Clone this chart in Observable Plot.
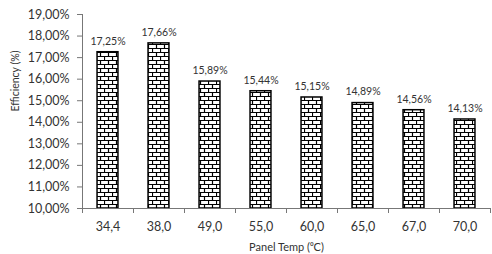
<!DOCTYPE html>
<html><head><meta charset="utf-8">
<script src="https://cdn.jsdelivr.net/npm/d3@7"></script>
<script src="https://cdn.jsdelivr.net/npm/@observablehq/plot@0.6"></script>
<style>body{margin:0;background:#fff}</style>
</head><body><div id="chart"></div>
<script>
const temps = ["34,4","38,0","49,0","55,0","60,0","65,0","67,0","70,0"];
const efficiency = [17.25,17.66,15.89,15.44,15.15,14.89,14.56,14.13];
const yTicks = [10,11,12,13,14,15,16,17,18,19];

const data = temps.map((t,i)=>({temp:t, eff:efficiency[i]}));
const fmt = d => d.toFixed(2).replace(".", ",") + "%";
const font = "Lato, 'Open Sans', sans-serif";

const chart = Plot.plot({
  width: 492, height: 254,
  marginLeft: 82, marginRight: 2, marginTop: 14, marginBottom: 46,
  style: {fontFamily: font, color: "#333", background: "#fff"},
  x: {domain: temps, paddingInner: 0.59, paddingOuter: 0.295, round: false, label: null},
  y: {domain: [10,19], label: null},
  marks: [
    Plot.barY(data, {x: "temp", y1: 10, y2: "eff", fill: "url(#brick)", stroke: "#000", strokeWidth: 1.5}),
    Plot.text(data, {x: "temp", y: "eff", text: d => fmt(d.eff), dy: -11, fontSize: 10.5, fill: "#333"}),
    Plot.axisY(yTicks, {tickSize: 5, tickPadding: 8, tickFormat: fmt, fontSize: 12.5, label: null, stroke: "#777"}),
    Plot.axisX({tickSize: 0, tickPadding: 14, fontSize: 12.5, label: null}),
    Plot.axisX(temps, {tickSize: 5, dx: -25.5, tickFormat: () => "", label: null, stroke: "#777"}),
    Plot.axisX(["70,0"], {tickSize: 5, dx: 25.5, tickFormat: () => "", label: null, stroke: "#777"}),
    Plot.frame({anchor: "left", stroke: "#777"}),
    Plot.frame({anchor: "bottom", stroke: "#777"}),
    Plot.text(["Efficiency (%)"], {frameAnchor: "left", dx: -67, rotate: -90, fontSize: 10.5, fill: "#333"}),
    Plot.text(["Panel Temp (\u2070C)"], {frameAnchor: "bottom", dy: 39, lineAnchor: "middle", fontSize: 11, fill: "#333"})
  ]
});

const defs = document.createElementNS("http://www.w3.org/2000/svg", "defs");
defs.innerHTML = `<pattern id="brick" patternUnits="userSpaceOnUse" width="8" height="8">
  <rect width="8" height="8" fill="#fff"/>
  <path d="M0 0.5H8M0 4.5H8M0.5 0V4.5M4.5 4.5V8" stroke="#000" stroke-width="1.2" fill="none"/>
</pattern>`;
chart.insertBefore(defs, chart.firstChild);
document.getElementById("chart").appendChild(chart);
</script>
</body></html>
